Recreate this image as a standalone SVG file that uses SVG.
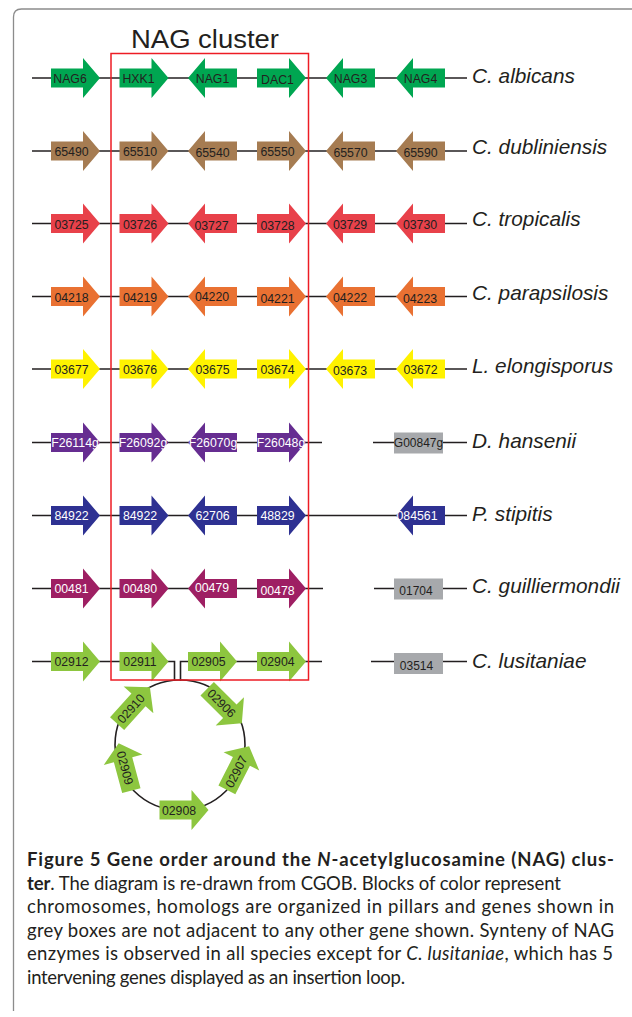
<svg xmlns="http://www.w3.org/2000/svg" xmlns:xlink="http://www.w3.org/1999/xlink" width="632" height="1017" viewBox="0 0 632 1017">
<style>
.ln{stroke:#231F20;stroke-width:1.6;fill:none}
.g1{fill:#00A651}.g2{fill:#A67C52}.g3{fill:#E8414A}.g4{fill:#E97132}.g5{fill:#FFF200}
.g6{fill:#662D91}.g7{fill:#2E3192}.g8{fill:#9E1F63}.g9{fill:#8DC63F}.gy{fill:#A7A9AC}
.t{font-family:"Liberation Sans",Arial,sans-serif;font-size:12.3px;fill:#231F20;text-anchor:middle}
.w{fill:#FFFFFF}
.tg{font-family:"Liberation Sans",Arial,sans-serif;font-size:12px;fill:#231F20;text-anchor:middle}
.sp{font-family:"Liberation Sans",Arial,sans-serif;font-size:20.8px;font-style:italic;fill:#231F20}
.cap{font-family:Lato,"Open Sans",sans-serif;font-size:18.5px;fill:#231F20}
</style>
<defs>
<path id="ar" d="M0,-9.5 H32 V-20 L49,0 L32,20 V9.5 H0 Z"/>
<path id="al" d="M49,-9.5 H17 V-20 L0,0 L17,20 V9.5 H49 Z"/>
</defs>

<path d="M13.5,1011 V17 Q13.5,9 21.5,9 H632" fill="none" stroke="#8C8C8C" stroke-width="1.3"/>

<g id="connectors">
<line class="ln" x1="32" y1="78" x2="467" y2="78"/>
<line class="ln" x1="32" y1="151" x2="467" y2="151"/>
<line class="ln" x1="32" y1="223.5" x2="467" y2="223.5"/>
<line class="ln" x1="32" y1="296.5" x2="467" y2="296.5"/>
<line class="ln" x1="32" y1="369" x2="467" y2="369"/>
<line class="ln" x1="32" y1="442.5" x2="322" y2="442.5"/>
<line class="ln" x1="373" y1="442.5" x2="467" y2="442.5"/>
<line class="ln" x1="32" y1="515.5" x2="467" y2="515.5"/>
<line class="ln" x1="32" y1="588.5" x2="323" y2="588.5"/>
<line class="ln" x1="374" y1="588.5" x2="467" y2="588.5"/>
<polyline class="ln" points="32,661.5 174.5,661.5 174.5,681"/>
<polyline class="ln" points="180.5,681 180.5,661.5 322,661.5"/>
<line class="ln" x1="371" y1="661.5" x2="467" y2="661.5"/>
<circle class="ln" cx="180" cy="745" r="65"/>
</g>

<g id="title"><text x="131" y="47.5" font-family="Liberation Sans,Arial,sans-serif" font-size="25" fill="#231F20" textLength="148" lengthAdjust="spacingAndGlyphs">NAG cluster</text></g>

<!-- Row 1 C. albicans -->
<g id="Ca_NAG6"><use xlink:href="#ar" x="51" y="78" class="g1"/><text class="t" x="70" y="82.8">NAG6</text></g>
<g id="Ca_HXK1"><use xlink:href="#ar" x="119.5" y="78" class="g1"/><text class="t" x="138.5" y="82.8">HXK1</text></g>
<g id="Ca_NAG1"><use xlink:href="#al" x="188" y="78" class="g1"/><text class="t" x="212.5" y="82.8">NAG1</text></g>
<g id="Ca_DAC1"><use xlink:href="#ar" x="257" y="78" class="g1"/><text class="t" x="277.5" y="83.8">DAC1</text></g>
<g id="Ca_NAG3"><use xlink:href="#al" x="326" y="78" class="g1"/><text class="t" x="350.5" y="82.8">NAG3</text></g>
<g id="Ca_NAG4"><use xlink:href="#al" x="396" y="78" class="g1"/><text class="t" x="420.5" y="82.8">NAG4</text></g>
<g id="sp_albicans"><text class="sp" x="472" y="82.5">C. albicans</text></g>

<!-- Row 2 C. dubliniensis -->
<g id="Cd_65490"><use xlink:href="#ar" x="51" y="151" class="g2"/><text class="t" x="71.5" y="156">65490</text></g>
<g id="Cd_65510"><use xlink:href="#ar" x="119.5" y="151" class="g2"/><text class="t" x="140" y="156">65510</text></g>
<g id="Cd_65540"><use xlink:href="#al" x="188" y="151" class="g2"/><text class="t" x="212.5" y="156.5">65540</text></g>
<g id="Cd_65550"><use xlink:href="#ar" x="257" y="151" class="g2"/><text class="t" x="277.5" y="156">65550</text></g>
<g id="Cd_65570"><use xlink:href="#al" x="326" y="151" class="g2"/><text class="t" x="350.5" y="156.5">65570</text></g>
<g id="Cd_65590"><use xlink:href="#al" x="396" y="151" class="g2"/><text class="t" x="420.5" y="156.5">65590</text></g>
<g id="sp_dubliniensis"><text class="sp" x="472" y="153.5">C. dubliniensis</text></g>

<!-- Row 3 C. tropicalis -->
<g id="Ct_03725"><use xlink:href="#ar" x="51" y="223.5" class="g3"/><text class="t" x="71.5" y="228.5">03725</text></g>
<g id="Ct_03726"><use xlink:href="#ar" x="119.5" y="223.5" class="g3"/><text class="t" x="140" y="228.5">03726</text></g>
<g id="Ct_03727"><use xlink:href="#al" x="188" y="223.5" class="g3"/><text class="t" x="211.5" y="229.5">03727</text></g>
<g id="Ct_03728"><use xlink:href="#ar" x="257" y="223.5" class="g3"/><text class="t" x="277.5" y="229.5">03728</text></g>
<g id="Ct_03729"><use xlink:href="#al" x="326" y="223.5" class="g3"/><text class="t" x="350" y="229">03729</text></g>
<g id="Ct_03730"><use xlink:href="#al" x="396" y="223.5" class="g3"/><text class="t" x="420" y="228.5">03730</text></g>
<g id="sp_tropicalis"><text class="sp" x="472" y="226">C. tropicalis</text></g>

<!-- Row 4 C. parapsilosis -->
<g id="Cp_04218"><use xlink:href="#ar" x="51" y="296.5" class="g4"/><text class="t" x="71.5" y="302">04218</text></g>
<g id="Cp_04219"><use xlink:href="#ar" x="119.5" y="296.5" class="g4"/><text class="t" x="140" y="302">04219</text></g>
<g id="Cp_04220"><use xlink:href="#al" x="188" y="296.5" class="g4"/><text class="t" x="212" y="300.8">04220</text></g>
<g id="Cp_04221"><use xlink:href="#ar" x="257" y="296.5" class="g4"/><text class="t" x="277.5" y="303">04221</text></g>
<g id="Cp_04222"><use xlink:href="#al" x="326" y="296.5" class="g4"/><text class="t" x="350" y="302">04222</text></g>
<g id="Cp_04223"><use xlink:href="#al" x="396" y="296.5" class="g4"/><text class="t" x="420" y="302.5">04223</text></g>
<g id="sp_parapsilosis"><text class="sp" x="472" y="300">C. parapsilosis</text></g>

<!-- Row 5 L. elongisporus -->
<g id="Le_03677"><use xlink:href="#ar" x="51" y="369" class="g5"/><text class="t" x="71.5" y="373.8">03677</text></g>
<g id="Le_03676"><use xlink:href="#ar" x="119.5" y="369" class="g5"/><text class="t" x="140" y="374.3">03676</text></g>
<g id="Le_03675"><use xlink:href="#al" x="188" y="369" class="g5"/><text class="t" x="212.5" y="374.3">03675</text></g>
<g id="Le_03674"><use xlink:href="#ar" x="257" y="369" class="g5"/><text class="t" x="277.5" y="374.3">03674</text></g>
<g id="Le_03673"><use xlink:href="#al" x="326" y="369" class="g5"/><text class="t" x="350" y="375">03673</text></g>
<g id="Le_03672"><use xlink:href="#al" x="396" y="369" class="g5"/><text class="t" x="420.5" y="374.3">03672</text></g>
<g id="sp_elongisporus"><text class="sp" x="472" y="373.3">L. elongisporus</text></g>

<!-- Row 6 D. hansenii -->
<g id="Dh_F26114g"><use xlink:href="#ar" x="51" y="442.5" class="g6"/><text class="t w" x="75" y="446.8" font-size="11.7">F26114g</text></g>
<g id="Dh_F26092g"><use xlink:href="#ar" x="119.5" y="442.5" class="g6"/><text class="t w" x="143" y="446.8" font-size="11.7">F26092g</text></g>
<g id="Dh_F26070g"><use xlink:href="#al" x="188" y="442.5" class="g6"/><text class="t w" x="213" y="446.8" font-size="11.7">F26070g</text></g>
<g id="Dh_F26048g"><use xlink:href="#ar" x="257" y="442.5" class="g6"/><text class="t w" x="281" y="446.8" font-size="11.7">F26048g</text></g>
<g id="Dh_G00847g"><rect class="gy" x="394" y="432.5" width="49" height="21"/><text class="tg" x="418.5" y="446.5" font-size="11.5">G00847g</text></g>
<g id="sp_hansenii"><text class="sp" x="472" y="448.3">D. hansenii</text></g>

<!-- Row 7 P. stipitis -->
<g id="Ps_84922a"><use xlink:href="#ar" x="51" y="515.5" class="g7"/><text class="t w" x="71.5" y="520.3">84922</text></g>
<g id="Ps_84922b"><use xlink:href="#ar" x="119.5" y="515.5" class="g7"/><text class="t w" x="140" y="520.3">84922</text></g>
<g id="Ps_62706"><use xlink:href="#al" x="188" y="515.5" class="g7"/><text class="t w" x="212.5" y="520.3">62706</text></g>
<g id="Ps_48829"><use xlink:href="#ar" x="257" y="515.5" class="g7"/><text class="t w" x="277.5" y="520.3">48829</text></g>
<g id="Ps_084561"><use xlink:href="#al" x="396" y="515.5" class="g7"/><text class="t w" x="417" y="520.3">084561</text></g>
<g id="sp_stipitis"><text class="sp" x="472" y="521">P. stipitis</text></g>

<!-- Row 8 C. guilliermondii -->
<g id="Cg_00481"><use xlink:href="#ar" x="51" y="588.5" class="g8"/><text class="t w" x="71.5" y="593.3">00481</text></g>
<g id="Cg_00480"><use xlink:href="#ar" x="119.5" y="588.5" class="g8"/><text class="t w" x="140" y="593.3">00480</text></g>
<g id="Cg_00479"><use xlink:href="#al" x="188" y="588.5" class="g8"/><text class="t w" x="212" y="592.3">00479</text></g>
<g id="Cg_00478"><use xlink:href="#ar" x="257" y="588.5" class="g8"/><text class="t w" x="277.5" y="594.5">00478</text></g>
<g id="Cg_01704"><rect class="gy" x="394" y="578.5" width="49" height="21"/><text class="tg" x="416" y="595">01704</text></g>
<g id="sp_guilliermondii"><text class="sp" x="472" y="593.3">C. guilliermondii</text></g>

<!-- Row 9 C. lusitaniae -->
<g id="Cl_02912"><use xlink:href="#ar" x="51" y="661.5" class="g9"/><text class="t" x="71.5" y="666.3">02912</text></g>
<g id="Cl_02911"><use xlink:href="#ar" x="119.5" y="661.5" class="g9"/><text class="t" x="140" y="666">02911</text></g>
<g id="Cl_02905"><use xlink:href="#ar" x="188" y="661.5" class="g9"/><text class="t" x="208.5" y="666.3">02905</text></g>
<g id="Cl_02904"><use xlink:href="#ar" x="257" y="661.5" class="g9"/><text class="t" x="277.5" y="666.3">02904</text></g>
<g id="Cl_03514"><rect class="gy" x="394" y="653" width="49" height="21"/><text class="tg" x="416.5" y="669.5">03514</text></g>
<g id="sp_lusitaniae"><text class="sp" x="472" y="668.3">C. lusitaniae</text></g>

<!-- Insertion loop genes -->
<g id="Cl_02910" transform="translate(133.5,705.5) rotate(-48)"><use xlink:href="#ar" x="-24.5" y="0" class="g9"/><text class="t" x="-4" y="4.5">02910</text></g>
<g id="Cl_02906" transform="translate(224.5,706) rotate(45)"><use xlink:href="#ar" x="-24.5" y="0" class="g9"/><text class="t" x="-4" y="4.5">02906</text></g>
<g id="Cl_02907" transform="translate(238,768) rotate(-63)"><use xlink:href="#ar" x="-24.5" y="0" class="g9"/><text class="t" x="-4" y="4.5">02907</text></g>
<g id="Cl_02908" transform="translate(184,810) rotate(0)"><use xlink:href="#ar" x="-24.5" y="0" class="g9"/><text class="t" x="-5" y="4.5">02908</text></g>
<g id="Cl_02909" transform="translate(125,767) rotate(75)"><use xlink:href="#al" x="-24.5" y="0" class="g9"/><text class="t" x="1" y="4.5">02909</text></g>

<!-- NAG cluster box -->
<g id="nag_box"><rect x="111" y="53.5" width="197.5" height="626.5" fill="none" stroke="#ED1C24" stroke-width="1.5"/></g>

<!-- Caption -->
<g id="caption" class="cap">
<text x="27" y="866" font-weight="bold" textLength="587" lengthAdjust="spacing">Figure 5 Gene order around the <tspan font-style="italic">N</tspan>-acetylglucosamine (NAG) clus-</text>
<text x="27" y="889.5" textLength="534" lengthAdjust="spacing"><tspan font-weight="bold">ter</tspan>. The diagram is re-drawn from CGOB. Blocks of color represent</text>
<text x="27" y="913" textLength="587" lengthAdjust="spacing">chromosomes, homologs are organized in pillars and genes shown in</text>
<text x="27" y="936.5" textLength="587" lengthAdjust="spacing">grey boxes are not adjacent to any other gene shown. Synteny of NAG</text>
<text x="27" y="960" textLength="586" lengthAdjust="spacing">enzymes is observed in all species except for <tspan font-style="italic">C. lusitaniae</tspan>, which has 5</text>
<text x="27" y="983.5" textLength="378" lengthAdjust="spacing">intervening genes displayed as an insertion loop.</text>
</g>
</svg>
